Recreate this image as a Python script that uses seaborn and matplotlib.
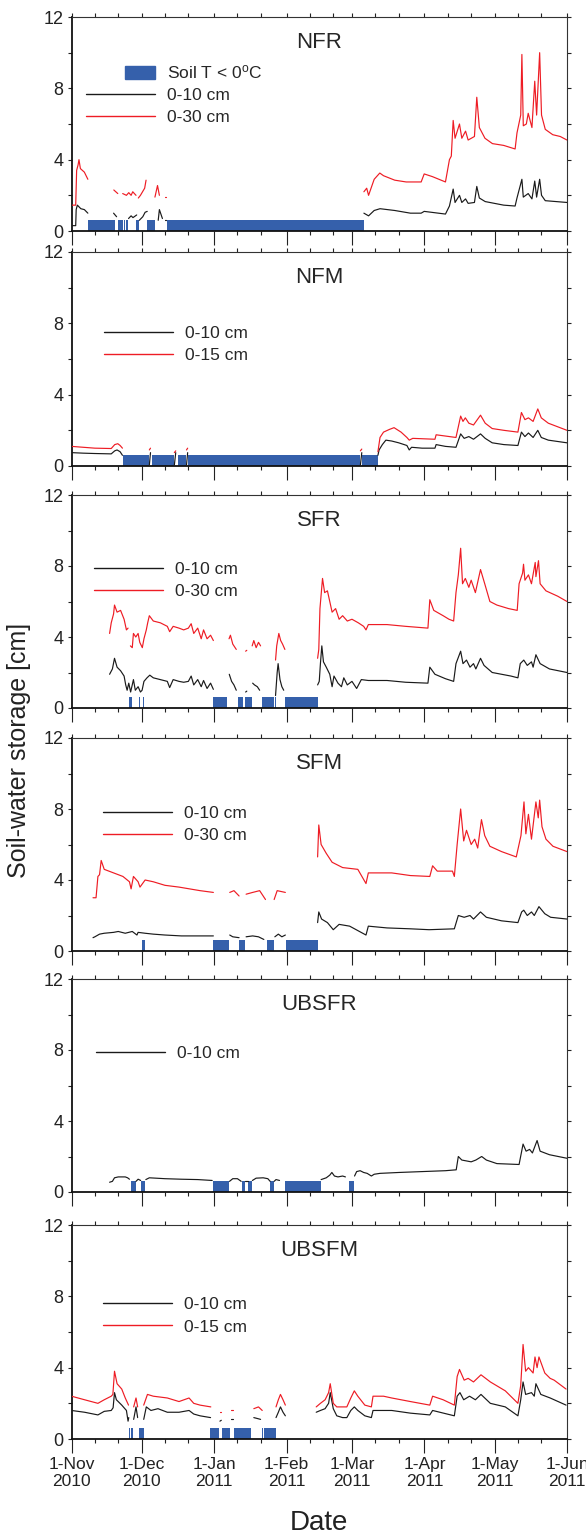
import numpy as np
import pandas as pd
import matplotlib
matplotlib.use("Agg")
import matplotlib.pyplot as plt
import matplotlib.dates as mdates
import matplotlib.patches as mpatches
from matplotlib.lines import Line2D
from matplotlib.legend_handler import HandlerPatch
from matplotlib.ticker import MultipleLocator, FuncFormatter
import seaborn as sns

nan = np.nan
START = pd.Timestamp("2010-11-01")
END = pd.Timestamp("2011-06-01")

# day = days since 1-Nov-2010, swc = soil-water storage [cm]; nan marks a data gap

# ---- NFR ----
nfr_day_10 = [0, 1.8, 2.0, 2.5, 4.0, 5.5, 7.0, 8, 18.0, 19.3, 20, 24.4, 25.5, 26.3, 27.9, 28, 29.0, 30.5, 31.5, 32.4, 33,
              37.1, 37.6, 38.9, 39, 40.0, 40.6, 41, 125.1, 127.1, 129.5, 132, 138.3, 145, 149.6, 150.9, 160, 161.7,
              163.3, 164.1, 166, 167, 168.6, 169.7, 172.4, 173.4, 174.5, 177, 184.9, 189.8, 190.6, 192.7, 193.3,
              195.4, 197, 198.2, 199, 200.3, 201.1, 202.7, 212]
nfr_swc_10 = [0.3, 0.3, 1.2, 1.45, 1.25, 1.2, 1.0, nan, 1.0, 0.8, nan, 0.7, 0.85, 0.75, 0.9, nan, 0.6, 0.8, 1.05, 1.1, nan,
              0.6, 1.2, 0.7, nan, 0.6, 0.6, nan, 1.0, 0.85, 1.15, 1.25, 1.15, 1.0, 1.0, 1.1, 0.95, 1.4,
              2.35, 1.6, 2.0, 1.6, 1.8, 1.55, 1.6, 2.5, 1.85, 1.65, 1.45, 1.4, 1.85, 2.9, 1.9,
              2.1, 1.8, 2.8, 1.9, 2.9, 2.0, 1.7, 1.6]
nfr_day_30 = [0, 1.8, 2.2, 2.8, 3.2, 3.8, 5.5, 7.0, 8, 18.1, 19.8, 20, 21.9, 23.5, 24.5, 25.5, 26.2, 27.6, 28, 28.6, 29.5,
              31.3, 31.9, 32, 35.7, 36.8, 37.6, 38, 40.0, 40.6, 41, 125.1, 126.3, 127.1, 129.5, 131.9, 133.5, 138.3,
              143.2, 149.6, 150.9, 154.4, 160.0, 161.7, 162.5, 163.3, 164.1, 166.0, 167.0, 168.6, 169.7, 172.4, 173.4,
              174.5, 176.9, 180.1, 184.9, 189.8, 190.6, 192.2, 192.7, 193.3, 194.6, 195.4, 197.0, 198.2, 199.0,
              200.3, 201.1, 202.7, 205.9, 209.1, 212.0]
nfr_swc_30 = [1.45, 1.45, 3.4, 3.7, 4.0, 3.5, 3.3, 2.9, nan, 2.3, 2.1, nan, 2.1, 2.0, 2.15, 2.0, 2.2, 2.0, nan, 1.85, 2.0,
              2.4, 2.85, nan, 1.9, 2.55, 2.0, nan, 1.9, 1.9, nan, 2.2, 2.4, 2.0, 2.9, 3.25, 3.1, 2.85,
              2.75, 2.75, 3.2, 3.05, 2.75, 4.0, 4.2, 6.2, 5.2, 6.0, 5.2, 5.6, 5.1, 5.3, 7.5,
              5.8, 5.2, 4.9, 4.8, 4.6, 5.5, 6.5, 9.9, 5.9, 6.0, 6.6, 5.8, 8.4, 6.5,
              10.0, 6.5, 5.7, 5.4, 5.3, 5.1]
nfr_frz_start = [7.0, 19.8, 22.4, 23.4, 27.6, 32.2, 40.8]
nfr_frz_end = [18.4, 21.9, 22.9, 24.1, 29.0, 35.7, 125.0]

# ---- NFM ----
nfm_day_10 = [0, 5, 10, 17, 18.5, 19.5, 20.8, 21.8, 22, 33.3, 33.8, 34, 44.0, 44.6, 45, 49.2, 49.7, 50, 123.6, 124.2, 125,
              131.1, 131.6, 133, 134.5, 137, 140, 143.5, 144.5, 145.5, 150, 155.5, 156, 160, 164.5, 166.5, 168, 170,
              172, 175, 177, 180, 185, 191, 192.5, 194, 195.5, 197.5, 199.5, 201, 204, 212]
nfm_swc_10 = [0.75, 0.72, 0.7, 0.68, 0.85, 0.9, 0.8, 0.6, nan, 0.05, 0.75, nan, 0.05, 0.75, nan, 0.05, 0.75, nan, 0.05, 0.75, nan,
              0.6, 0.9, 1.2, 1.45, 1.4, 1.3, 1.15, 0.9, 1.05, 1.0, 1.0, 1.2, 1.1, 1.05, 1.8, 1.55, 1.65,
              1.5, 1.8, 1.55, 1.3, 1.2, 1.15, 1.9, 1.65, 1.85, 1.6, 2.0, 1.6, 1.45, 1.3]
nfm_day_15 = [0, 5, 10, 17, 18.5, 19.8, 20.8, 21.8, 22, 33.3, 33.8, 34, 44.0, 44.6, 45, 49.2, 49.7, 50, 123.6, 124.2, 125,
              131.1, 132, 133.5, 136, 138, 141, 143.5, 144.5, 146, 155.5, 156, 164.5, 166.5, 167.5, 168.5, 170, 172,
              175, 177, 180, 185, 191, 192.5, 194, 195.5, 197.5, 199.5, 201, 204, 208, 212]
nfm_swc_15 = [1.1, 1.05, 1.0, 0.98, 1.2, 1.25, 1.15, 1.0, nan, 0.9, 1.0, nan, 0.75, 0.85, nan, 0.9, 1.0, nan, 0.85, 0.95, nan,
              0.8, 1.6, 1.9, 2.05, 2.15, 1.9, 1.6, 1.45, 1.55, 1.5, 1.75, 1.6, 2.8, 2.5, 2.7, 2.4, 2.3,
              2.85, 2.4, 2.1, 2.0, 1.9, 3.0, 2.6, 2.7, 2.5, 3.2, 2.7, 2.4, 2.2, 2.0]
nfm_frz_start = [21.9, 34.3, 45.7, 50.0, 124.3]
nfm_frz_end = [33.3, 44.0, 49.2, 123.5, 131.1]

# ---- SFR ----
sfr_day_10 = [16.3, 17.5, 18.4, 19.5, 21, 22.5, 23.2, 23.8, 24.5, 25.3, 26.5, 27.3, 28.5, 29.5, 30.2, 31, 32.3, 33.5, 35,
              38, 41, 42, 43.5, 46, 48, 50, 51.2, 52.3, 54, 55.5, 56.5, 58, 59.5, 60.7, 61, 67.5, 68.5, 69.5, 70.5, 71,
              74.5, 75.0, 75.5, 77.5, 78.3, 79.5, 80.5, 81, 87.3, 88, 88.4, 89.2, 90, 90.8, 91, 105.3, 106, 106.5,
              107.1, 107.8, 109, 110.5, 111.5, 112.3, 114, 115.5, 116.5, 118, 120, 122, 124, 127, 135, 143, 152.5,
              153.3, 155.5, 160, 163.5, 164.5, 166.5, 167.5, 169, 170.5, 172, 173, 175, 176.5, 180, 188, 191, 192,
              193.5, 195, 196.8, 197.5, 198.7, 200.5, 204.5, 212]
sfr_swc_10 = [1.9, 2.2, 2.8, 2.3, 2.1, 1.8, 1.3, 1.0, 1.4, 0.9, 1.6, 1.0, 1.2, 0.9, 1.0, 1.5, 1.7, 1.85, 1.7,
              1.6, 1.5, 1.15, 1.6, 1.5, 1.45, 1.5, 1.8, 1.3, 1.6, 1.2, 1.55, 1.1, 1.4, 1.05, nan, 1.9, 1.5, 1.3, 1.0, nan,
              0.9, 0.95, nan, 1.4, 1.3, 1.2, 1.0, nan, 0.7, 2.0, 2.5, 1.6, 1.2, 1.0, nan, 1.3, 1.5, 2.5,
              3.5, 2.6, 2.3, 1.9, 1.2, 1.8, 1.4, 1.2, 1.7, 1.3, 1.5, 1.1, 1.6, 1.55, 1.55, 1.45, 1.4,
              2.3, 1.9, 1.65, 1.5, 2.5, 3.2, 2.5, 2.7, 2.3, 2.5, 2.2, 2.8, 2.4, 2.0, 1.8, 1.7, 2.5,
              2.7, 2.4, 2.6, 2.3, 3.0, 2.5, 2.2, 2.0]
sfr_day_30 = [16.3, 17, 18, 18.4, 19.5, 21, 22.5, 23.5, 24.2, 24.8, 25.2, 26, 26.5, 27.5, 28.5, 29.2, 30.3, 31, 32, 32.6,
              33.3, 35, 38, 41, 42, 43.5, 46, 48, 50, 51.2, 52.3, 54, 55.5, 56.5, 58, 59.5, 60.7, 61, 67.4, 68, 69,
              70.5, 71, 74.5, 75.0, 75.5, 77.3, 78, 79, 80, 80.9, 81, 87.3, 87.8, 88.7, 89.5, 90.3, 91.3, 92, 105.3,
              105.8, 106.3, 107.4, 108.3, 109.5, 110.5, 111.5, 113, 114.5, 116, 118, 120, 122.7, 125, 126, 127, 135,
              143, 152.5, 153.3, 155, 159, 161.5, 163.5, 164.5, 165.5, 166.5, 167.3, 168.5, 170, 171, 172.8, 175,
              176.8, 179, 182, 187, 190.7, 191.5, 193, 193.4, 194, 195.5, 196.8, 198.4, 198.7, 199.8, 200.5, 203,
              208, 212]
sfr_swc_30 = [4.2, 4.8, 5.3, 5.8, 5.4, 5.5, 5.0, 4.4, 4.5, nan, 3.5, 3.4, 4.2, 4.0, 4.2, 3.7, 3.4, 3.9, 4.4, 4.8,
              5.2, 4.9, 4.8, 4.6, 4.3, 4.6, 4.5, 4.4, 4.5, 4.75, 4.2, 4.5, 3.9, 4.4, 3.9, 4.1, 3.8, nan, 3.9, 4.1, 3.6,
              3.3, nan, 3.2, 3.25, nan, 3.5, 3.8, 3.4, 3.7, 3.5, nan, 2.7, 3.5, 4.2, 3.8, 3.6, 3.3, nan, 2.8,
              3.3, 5.6, 7.3, 6.5, 6.6, 6.0, 5.4, 5.6, 5.0, 5.2, 4.9, 5.0, 4.8, 4.6, 4.4, 4.7, 4.7,
              4.6, 4.5, 6.1, 5.5, 5.2, 5.0, 4.9, 6.5, 7.5, 9.0, 7.0, 7.3, 6.8, 7.2, 6.5, 7.8,
              7.0, 6.0, 5.8, 5.6, 5.5, 7.0, 7.6, 8.1, 7.2, 7.5, 7.0, 8.2, 7.4, 8.3, 7.0, 6.6,
              6.3, 6.0]
sfr_frz_start = [24.5, 29.0, 30.5, 60.7, 71.4, 74.1, 81.6, 87.0, 91.5]
sfr_frz_end = [25.9, 29.5, 31.2, 66.7, 73.4, 77.3, 86.6, 87.5, 105.3]

# ---- SFM ----
sfm_day_10 = [9.2, 10, 12, 14, 18, 20, 23, 26, 28, 28.5, 31.5, 35, 40, 47, 53, 60.7, 61, 67.7, 69, 71.7, 72, 74.7, 77.5,
              80, 82.3, 83, 87, 88.5, 90, 91.5, 92, 105.3, 105.8, 107, 109.5, 112, 114.5, 119, 126, 127, 135, 145,
              153, 163.8, 165.5, 168, 170.5, 172, 175, 177.5, 184, 191, 192.6, 193.5, 195, 196.8, 198, 200, 202.5,
              205, 212]
sfm_swc_10 = [0.75, 0.8, 0.95, 1.0, 1.05, 1.1, 1.0, 1.1, 0.9, 1.05, 1.0, 0.95, 0.9, 0.85, 0.85, 0.85, nan, 0.9, 0.8, 0.75, nan, 0.8, 0.85,
              0.8, 0.65, nan, 0.8, 0.95, 0.8, 0.9, nan, 1.6, 2.2, 1.8, 1.6, 1.2, 1.5, 1.4, 0.9, 1.4, 1.3, 1.25,
              1.2, 1.25, 2.0, 1.9, 2.0, 1.8, 2.2, 1.9, 1.7, 1.6, 2.2, 2.3, 2.0, 2.2, 2.0, 2.5, 2.1,
              1.9, 1.8]
sfm_day_30 = [9.2, 10.5, 11.3, 12, 12.7, 14, 18, 22, 24.8, 25.5, 26.5, 28.5, 29.3, 31.5, 35, 40, 46, 55, 60.7, 61, 67.7,
              69.5, 71.7, 72, 74.7, 77.5, 80.5, 83, 84, 86.7, 88, 91.5, 92, 105.3, 105.8, 106.8, 109, 111.5, 116,
              122.5, 126, 127, 137, 145, 153.3, 154.5, 156.5, 163, 163.8, 165, 166.5, 167.8, 169, 171, 172.5, 173.8,
              175.4, 176.8, 179, 184, 190.3, 192.3, 193.6, 194.4, 195.5, 196.8, 198.7, 199.7, 200.3, 201.3, 203,
              206, 212]
sfm_swc_30 = [3.0, 3.0, 4.2, 4.3, 5.1, 4.6, 4.4, 4.2, 3.9, 3.5, 4.2, 3.9, 3.6, 4.0, 3.9, 3.7, 3.6, 3.4, 3.3, nan, 3.3,
              3.4, 3.1, nan, 3.2, 3.3, 3.4, 2.9, nan, 2.9, 3.4, 3.3, nan, 5.3, 7.1, 6.0, 5.5, 5.0, 4.7,
              4.6, 3.8, 4.4, 4.4, 4.25, 4.2, 4.8, 4.5, 4.5, 4.2, 6.0, 8.0, 6.2, 6.8, 6.0, 6.3, 5.8,
              7.4, 6.5, 5.9, 5.6, 5.3, 6.5, 8.4, 6.6, 7.7, 6.3, 8.4, 7.5, 8.5, 7.0, 6.3,
              5.9, 5.6]
sfm_frz_start = [30.0, 60.7, 71.8, 83.7, 91.8]
sfm_frz_end = [31.5, 67.5, 74.2, 86.7, 105.4]

# ---- UBSFR ----
ubsfr_day_10 = [16.3, 17.5, 18.4, 20, 23, 24, 24.8, 25, 27.6, 28.5, 29.6, 30, 31.8, 33.3, 40, 47, 54, 60.2, 61, 67.6, 69,
                71, 72.6, 73, 74.3, 75.4, 75.5, 77.4, 79, 82, 84, 85, 85.5, 86.7, 87.5, 89, 90, 106.8, 109, 110.5,
                111.4, 112.5, 114, 116, 117.2, 118, 121.1, 122, 123.5, 125, 126.5, 128.3, 129.5, 132, 140, 150, 160,
                164.6, 165.5, 167, 169, 171, 173, 175.5, 177.5, 182, 191.5, 193.2, 194.5, 196, 197.2, 199.2, 200.5,
                204.5, 212]
ubsfr_swc_10 = [0.55, 0.6, 0.8, 0.85, 0.85, 0.8, 0.72, nan, 0.6, 0.72, 0.65, nan, 0.7, 0.8, 0.75, 0.72, 0.7, 0.65, nan, 0.6, 0.75,
                0.75, 0.6, nan, 0.6, 0.6, nan, 0.65, 0.78, 0.8, 0.75, 0.6, nan, 0.6, 0.7, 0.65, nan, 0.7, 0.8, 0.95,
                1.1, 0.9, 0.85, 0.9, 0.85, nan, 0.9, 1.15, 1.2, 1.1, 1.05, 0.9, 1.0, 1.05, 1.1, 1.15, 1.2,
                1.25, 2.0, 1.8, 1.75, 1.7, 1.8, 2.0, 1.8, 1.6, 1.55, 2.7, 2.3, 2.4, 2.2, 2.9, 2.3,
                2.1, 1.9]
ubsfr_frz_start = [25.5, 29.8, 60.4, 72.8, 75.6, 85.1, 91.5, 118.8]
ubsfr_frz_end = [27.4, 31.6, 67.5, 74.2, 77.3, 86.6, 106.7, 121.0]

# ---- UBSFM ----
ubsfm_day_10 = [0, 5.6, 11.3, 14, 17, 17.8, 18.4, 19.2, 21.5, 23.5, 24.2, 24.5, 25, 26.6, 27.6, 28.3, 29, 30.9, 32, 34,
                37, 41, 46, 50.3, 52.3, 55, 59.5, 60, 63.5, 64.1, 65, 68.4, 69.2, 70, 78, 79.5, 80.9, 81, 87.5, 88.5,
                89.4, 90.5, 91.5, 92, 104.7, 106.5, 108.5, 110, 110.7, 112, 113.5, 116, 117.8, 119.5, 121, 122.5,
                125.5, 128.3, 129, 137, 145, 153.3, 154.5, 163.8, 165, 166.2, 167.8, 170.3, 172.8, 175.2, 179.2,
                185.6, 191, 192.2, 193.2, 194.3, 196.8, 198, 198.7, 200.8, 204.8, 211.6]
ubsfm_swc_10 = [1.6, 1.5, 1.35, 1.55, 1.6, 1.75, 2.6, 2.2, 1.9, 1.6, 1.0, 1.2, nan, 1.1, 1.8, 1.2, nan, 1.1, 1.8, 1.6,
                1.7, 1.5, 1.5, 1.6, 1.4, 1.3, 1.2, nan, 1.0, 1.05, nan, 1.1, 1.1, nan, 1.2, 1.15, 1.1, nan, 1.2, 1.5,
                1.8, 1.5, 1.3, nan, 1.5, 1.6, 1.7, 2.0, 2.6, 1.7, 1.3, 1.2, 1.2, 1.6, 1.8, 1.6,
                1.3, 1.2, 1.6, 1.6, 1.45, 1.35, 1.6, 1.3, 2.4, 2.6, 2.2, 2.4, 2.2, 2.5, 2.0,
                1.8, 1.3, 2.2, 3.2, 2.5, 2.6, 2.4, 3.1, 2.5, 2.3, 1.9]
ubsfm_day_15 = [0, 5.6, 11.3, 14, 17, 17.7, 18.4, 19.5, 21.5, 23, 24.4, 25, 26.6, 27.6, 28.3, 29, 30.9, 32.5, 35, 41, 46,
                50.3, 52.3, 55, 59.6, 60, 63.4, 64.0, 65, 68.4, 69.0, 70, 78, 80, 81.6, 82, 87.5, 88.5, 89.4, 90.5,
                91.5, 92, 104.7, 106.5, 108.5, 110, 110.7, 112, 113.5, 117.8, 119.5, 121, 122.5, 125.5, 128.3, 129,
                133.5, 137, 145, 153.3, 154.5, 159, 163.8, 165, 166, 168, 169.7, 172, 175.2, 179.2, 185.6, 191, 192.2,
                193.2, 194.3, 195.5, 197.5, 198.3, 199.2, 200, 202.5, 204.8, 206.5, 211.6]
ubsfm_swc_15 = [2.4, 2.2, 2.0, 2.2, 2.4, 2.5, 3.8, 3.1, 2.8, 2.3, 1.9, nan, 1.8, 2.3, 1.8, nan, 1.9, 2.5, 2.4, 2.3, 2.1,
                2.3, 2.0, 1.9, 1.8, nan, 1.5, 1.5, nan, 1.6, 1.6, nan, 1.7, 1.8, 1.6, nan, 1.8, 2.2, 2.5, 2.2,
                1.9, nan, 1.8, 2.0, 2.2, 2.6, 3.1, 2.0, 1.8, 1.8, 2.3, 2.7, 2.4, 1.9, 1.8, 2.4,
                2.4, 2.3, 2.1, 1.9, 2.4, 2.2, 1.9, 3.5, 3.9, 3.3, 3.4, 3.2, 3.6, 3.2, 2.7, 2.0, 3.0,
                5.3, 3.8, 4.0, 3.7, 4.6, 4.0, 4.6, 3.7, 3.4, 3.3, 2.8]
ubsfm_frz_start = [24.5, 25.5, 28.8, 59.2, 64.6, 69.5, 81.3, 82.3]
ubsfm_frz_end = [25.1, 26.2, 30.9, 63.1, 67.8, 77.0, 81.9, 87.5]

site_names = ["NFR", "NFM", "SFR", "SFM", "UBSFR", "UBSFM"]
shallow = [(nfr_day_10, nfr_swc_10), (nfm_day_10, nfm_swc_10), (sfr_day_10, sfr_swc_10),
           (sfm_day_10, sfm_swc_10), (ubsfr_day_10, ubsfr_swc_10), (ubsfm_day_10, ubsfm_swc_10)]
deep = [(nfr_day_30, nfr_swc_30), (nfm_day_15, nfm_swc_15), (sfr_day_30, sfr_swc_30),
        (sfm_day_30, sfm_swc_30), None, (ubsfm_day_15, ubsfm_swc_15)]
deep_labels = ["0-30 cm", "0-15 cm", "0-30 cm", "0-30 cm", None, "0-15 cm"]
frozen = [(nfr_frz_start, nfr_frz_end), (nfm_frz_start, nfm_frz_end), (sfr_frz_start, sfr_frz_end),
          (sfm_frz_start, sfm_frz_end), (ubsfr_frz_start, ubsfr_frz_end), (ubsfm_frz_start, ubsfm_frz_end)]

# layout (pixels from top of a 586x1535 figure)
panel_px = [(17, 231), (252, 466), (495, 708), (738, 951), (979, 1192), (1225, 1439)]
legend_xy = [(0.029, 0.64), (0.065, 0.567), (0.045, 0.60), (0.063, 0.595), (0.049, 0.65), (0.063, 0.575)]

BLUE = "#3560ab"
RED = "#ee1c24"
BLACK = "#1a1a1a"

sns.set_style("ticks")
plt.rcParams["font.family"] = ["Liberation Sans", "DejaVu Sans"]
plt.rcParams["mathtext.default"] = "regular"


def draw_series(ax, days, vals, color):
    df = pd.DataFrame({"day": days, "swc": vals})
    df["seg"] = df["swc"].isna().cumsum()
    df = df.dropna()
    df["date"] = START + pd.to_timedelta(df["day"], unit="D")
    sns.lineplot(data=df, x="date", y="swc", units="seg", estimator=None, color=color,
                 lw=0.85, ax=ax, legend=False, zorder=3)


def small_box(legend, orig_handle, xdescent, ydescent, width, height, fontsize):
    return mpatches.Rectangle((-xdescent + 0.56 * width, -ydescent - 0.1 * height), 0.44 * width, 1.1 * height)


def date_label(x, pos):
    d = mdates.num2date(x)
    return f"{d.day}-{d:%b}\n{d:%Y}"


W, H = 586, 1535
fig = plt.figure(figsize=(W / 100, H / 100), dpi=100)
left, right = 71.5, 567.0

for i, name in enumerate(site_names):
    top, bot = panel_px[i]
    ax = fig.add_axes([left / W, 1 - bot / H, (right - left) / W, (bot - top) / H])
    ax.xaxis_date()

    fs, fe = frozen[i]
    starts = mdates.date2num(START + pd.to_timedelta(fs, unit="D"))
    widths = np.array(fe) - np.array(fs)
    ax.bar(starts, [0.6] * len(fs), width=widths, align="edge", color=BLUE, linewidth=0, zorder=2)

    draw_series(ax, shallow[i][0], shallow[i][1], BLACK)
    handles = [Line2D([], [], color=BLACK, lw=1.0)]
    labels = ["0-10 cm"]
    if deep[i] is not None:
        draw_series(ax, deep[i][0], deep[i][1], RED)
        handles.append(Line2D([], [], color=RED, lw=1.0))
        labels.append(deep_labels[i])
    handler_map = {}
    if i == 0:
        box = mpatches.Patch(color=BLUE)
        handles.insert(0, box)
        labels.insert(0, "Soil T < 0$^o$C")
        handler_map = {mpatches.Patch: HandlerPatch(patch_func=small_box)}

    ax.legend(handles, labels, loc="center left", bbox_to_anchor=legend_xy[i], frameon=False,
              borderpad=0, borderaxespad=0, handlelength=4.0, handletextpad=0.7, labelspacing=0.4,
              fontsize=12.5, handler_map=handler_map)

    ax.text(0.5, 0.88, name, transform=ax.transAxes, ha="center", va="center", fontsize=16)

    ax.set_xlim(mdates.date2num(START), mdates.date2num(END))
    ax.set_ylim(0, 12)
    ax.yaxis.set_major_locator(MultipleLocator(4))
    ax.yaxis.set_minor_locator(MultipleLocator(2))
    ax.xaxis.set_major_locator(mdates.MonthLocator())
    ax.xaxis.set_minor_locator(mdates.DayLocator(bymonthday=[11, 21]))
    ax.set_xlabel("")
    ax.set_ylabel("")

    ax.tick_params(axis="both", which="both", direction="out", top=True, right=True,
                   colors="#222222", labelcolor="#222222")
    ax.tick_params(axis="y", which="both", length=3, width=0.8, labelsize=13, pad=3)
    ax.tick_params(axis="x", which="major", length=10, width=0.8, labelsize=12.5, pad=3)
    ax.tick_params(axis="x", which="minor", length=3, width=0.8)
    if i < len(site_names) - 1:
        ax.tick_params(axis="x", which="both", labelbottom=False)
    else:
        ax.xaxis.set_major_formatter(FuncFormatter(date_label))
    for t in ax.xaxis.get_major_ticks():
        t.tick2line.set_markersize(3)

    for side in ["left", "bottom"]:
        ax.spines[side].set_linewidth(1.3)
        ax.spines[side].set_color("#111111")
    for side in ["top", "right"]:
        ax.spines[side].set_linewidth(0.8)
        ax.spines[side].set_color("#333333")

fig.text(0.032, 1 - 750 / H, "Soil-water storage [cm]", rotation=90, ha="center", va="center",
         fontsize=18, color="#222222")
fig.text((left + right) / 2 / W, 0.003, "Date", ha="center", va="baseline", fontsize=20, color="#222222")

fig.savefig("out.png", dpi=100)
